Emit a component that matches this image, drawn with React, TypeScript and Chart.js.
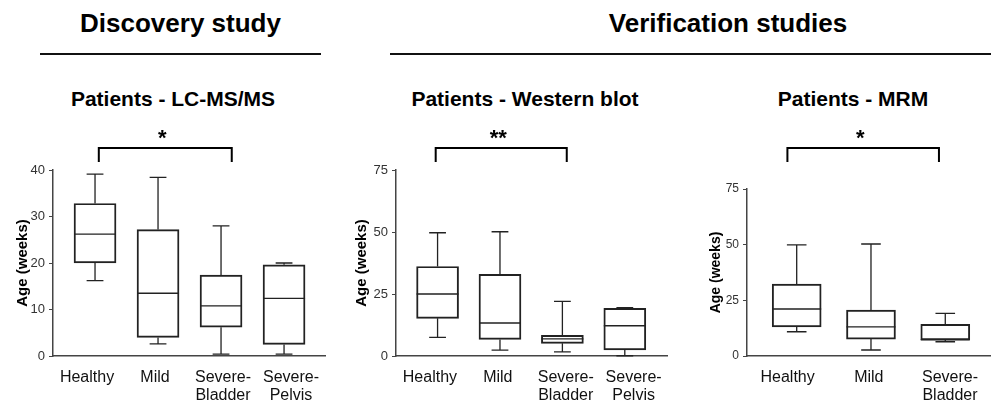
import React, { useEffect, useRef } from "react";
import { Chart, registerables } from "chart.js";

Chart.register(...registerables);
Chart.defaults.font.family = "'Liberation Sans', Arial, Helvetica, sans-serif";

// ---------- data ----------
const fourGroups: (string | string[])[] = ["Healthy", "Mild", ["Severe-", "Bladder"], ["Severe-", "Pelvis"]];
const threeGroups: (string | string[])[] = ["Healthy", "Mild", ["Severe-", "Bladder"]];

// box stats: [min, q1, median, q3, max]
const lcmsMin = [16.2, 2.6, 0.4, 0.4];
const lcmsQ1 = [20.0, 4.0, 6.2, 2.5];
const lcmsMedian = [26.2, 13.5, 10.8, 12.4];
const lcmsQ3 = [32.8, 27.2, 17.4, 19.6];
const lcmsMax = [39.1, 38.4, 28.0, 20.0];

const wbMin = [7.5, 2.4, 1.7, 0.1];
const wbQ1 = [15.2, 6.7, 5.1, 2.5];
const wbMedian = [25.0, 13.3, 6.9, 12.2];
const wbQ3 = [36.1, 32.9, 8.3, 19.2];
const wbMax = [49.7, 50.1, 22.0, 19.5];

const mrmMin = [10.9, 2.7, 6.4];
const mrmQ1 = [13.1, 7.6, 7.2];
const mrmMedian = [21.1, 13.1, 7.3];
const mrmQ3 = [32.3, 20.6, 14.2];
const mrmMax = [49.9, 50.3, 19.1];

const lcmsTicks = [0, 10, 20, 30, 40];
const wbTicks = [0, 25, 50, 75];
const mrmTicks = [0, 25, 50, 75];

const yTitle = "Age (weeks)";

type Panel = {
  title: string;
  labels: (string | string[])[];
  min: number[]; q1: number[]; med: number[]; q3: number[]; max: number[];
  ticks: number[];
  sig: string;
  sigFrom: number; sigTo: number;
  // layout
  left: number; top: number; width: number; height: number;
  padTop: number; padRight: number; yWidth: number; xHeight: number;
  xbMin: number; xbMax: number; boxW: number;
  tickFont: number; yTitleFont: number; yTitlePad: number;
  titleX: number;
};

const panels: Panel[] = [
  {
    title: "Patients - LC-MS/MS", labels: fourGroups,
    min: lcmsMin, q1: lcmsQ1, med: lcmsMedian, q3: lcmsQ3, max: lcmsMax,
    ticks: lcmsTicks, sig: "*", sigFrom: 0.06, sigTo: 2.17,
    left: 0, top: 115, width: 335, height: 289, padTop: 55, padRight: 10, yWidth: 53, xHeight: 48,
    xbMin: -0.667, xbMax: 3.65, boxW: 42, tickFont: 13, yTitleFont: 15, yTitlePad: 14, titleX: 173,
  },
  {
    title: "Patients - Western blot", labels: fourGroups,
    min: wbMin, q1: wbQ1, med: wbMedian, q3: wbQ3, max: wbMax,
    ticks: wbTicks, sig: "**", sigFrom: -0.03, sigTo: 2.07,
    left: 340, top: 115, width: 335, height: 289, padTop: 55, padRight: 3, yWidth: 56, xHeight: 48,
    xbMin: -0.666, xbMax: 3.685, boxW: 42, tickFont: 13, yTitleFont: 15, yTitlePad: 13, titleX: 525,
  },
  {
    title: "Patients - MRM", labels: threeGroups,
    min: mrmMin, q1: mrmQ1, med: mrmMedian, q3: mrmQ3, max: mrmMax,
    ticks: mrmTicks, sig: "*", sigFrom: -0.125, sigTo: 1.915,
    left: 680, top: 115, width: 311, height: 289, padTop: 74, padRight: 0, yWidth: 67, xHeight: 48,
    xbMin: -0.669, xbMax: 2.61, boxW: 49, tickFont: 12, yTitleFont: 14, yTitlePad: 28, titleX: 853,
  },
];

const BRACKET_TOP = 33;
const BRACKET_LEG = 47;
const STAR_BASE = 29.5;

function BoxPanel({ p }: { p: Panel }) {
  const ref = useRef<HTMLCanvasElement | null>(null);
  useEffect(() => {
    if (!ref.current) return;
    const boxPlugin = {
      id: "boxwhisk",
      afterDatasetsDraw(chart: any) {
        const ctx = chart.ctx;
        const xs = chart.scales.xb;
        const ys = chart.scales.y;
        ctx.save();
        ctx.strokeStyle = "#222";
        ctx.lineWidth = 1.3;
        const half = p.boxW / 2;
        const cap = p.boxW * 0.2;
        p.med.forEach((m, i) => {
          const cx = xs.getPixelForValue(i);
          const yMed = ys.getPixelForValue(m);
          const yQ1 = ys.getPixelForValue(p.q1[i]);
          const yQ3 = ys.getPixelForValue(p.q3[i]);
          const yMin = ys.getPixelForValue(p.min[i]);
          const yMax = ys.getPixelForValue(p.max[i]);
          ctx.beginPath();
          ctx.moveTo(cx - half, yMed); ctx.lineTo(cx + half, yMed);
          ctx.moveTo(cx, yQ3); ctx.lineTo(cx, yMax);
          ctx.moveTo(cx - cap, yMax); ctx.lineTo(cx + cap, yMax);
          ctx.moveTo(cx, yQ1); ctx.lineTo(cx, yMin);
          ctx.moveTo(cx - cap, yMin); ctx.lineTo(cx + cap, yMin);
          ctx.stroke();
        });
        ctx.restore();
      },
      afterDraw(chart: any) {
        const ctx = chart.ctx;
        const xs = chart.scales.xb;
        const x1 = xs.getPixelForValue(p.sigFrom);
        const x2 = xs.getPixelForValue(p.sigTo);
        ctx.save();
        ctx.strokeStyle = "#000";
        ctx.lineWidth = 2;
        ctx.beginPath();
        ctx.moveTo(x1, BRACKET_LEG);
        ctx.lineTo(x1, BRACKET_TOP);
        ctx.lineTo(x2, BRACKET_TOP);
        ctx.lineTo(x2, BRACKET_LEG);
        ctx.stroke();
        ctx.fillStyle = "#000";
        ctx.font = "bold 22px 'Liberation Sans', Arial, sans-serif";
        ctx.textAlign = "center";
        ctx.textBaseline = "alphabetic";
        ctx.fillText(p.sig, (x1 + x2) / 2 - 3, STAR_BASE);
        ctx.restore();
      },
    };

    const chart = new Chart(ref.current, {
      type: "bar",
      data: {
        labels: p.labels as any,
        datasets: [
          {
            label: "box",
            xAxisID: "xb",
            yAxisID: "y",
            data: p.q1.map((q, i) => ({ x: i, y: [q, p.q3[i]] })) as any,
            backgroundColor: "rgba(255,255,255,0)",
            borderColor: "#222",
            borderWidth: 1.3,
            borderSkipped: false,
            barThickness: p.boxW,
          } as any,
        ],
      },
      options: {
        animation: false,
        responsive: false,
        maintainAspectRatio: false,
        devicePixelRatio: 1,
        layout: { padding: { top: p.padTop, right: p.padRight, left: 0, bottom: 0 } },
        plugins: { legend: { display: false }, tooltip: { enabled: false }, title: { display: false } },
        scales: {
          x: {
            type: "category",
            axis: "x",
            position: "bottom",
            offset: true,
            grid: { display: false, drawTicks: false },
            border: { display: true, color: "#444", width: 1.5 },
            ticks: {
              color: "#111",
              font: { size: 16, lineHeight: 1.125 },
              padding: 13,
              maxRotation: 0,
              autoSkip: false,
            },
            afterFit: (s: any) => { s.height = p.xHeight; },
          },
          xb: {
            type: "linear",
            axis: "x",
            display: false,
            min: p.xbMin,
            max: p.xbMax,
            offset: false,
          },
          y: {
            type: "linear",
            position: "left",
            min: p.ticks[0],
            max: p.ticks[p.ticks.length - 1],
            afterBuildTicks: (s: any) => { s.ticks = p.ticks.map((v) => ({ value: v })); },
            grid: { display: true, drawOnChartArea: false, drawTicks: true, tickLength: 4, color: "#444", lineWidth: 1 },
            border: { display: true, color: "#444", width: 1.5 },
            ticks: { color: "#333", font: { size: p.tickFont }, padding: 4 },
            title: {
              display: true,
              text: yTitle,
              color: "#000",
              font: { size: p.yTitleFont, weight: "bold" },
              padding: { top: p.yTitlePad, bottom: 0 },
            },
            afterFit: (s: any) => { s.width = p.yWidth; },
          },
        },
      } as any,
      plugins: [boxPlugin],
    });
    return () => chart.destroy();
  }, [p]);

  return (
    <>
      <div
        style={{
          position: "absolute",
          left: p.titleX - 200,
          width: 400,
          top: 87,
          textAlign: "center",
          font: "bold 21px 'Liberation Sans', Arial, sans-serif",
          lineHeight: "24px",
          color: "#000",
          whiteSpace: "nowrap",
        }}
      >
        {p.title}
      </div>
      <canvas
        ref={ref}
        width={p.width}
        height={p.height}
        style={{ position: "absolute", left: p.left, top: p.top, width: p.width, height: p.height }}
      />
    </>
  );
}

export default function App() {
  const header: React.CSSProperties = {
    position: "absolute",
    top: 8,
    textAlign: "center",
    font: "bold 26px 'Liberation Sans', Arial, sans-serif",
    lineHeight: "30px",
    color: "#000",
    whiteSpace: "nowrap",
  };
  return (
    <div style={{ position: "relative", width: 991, height: 404, overflow: "hidden", background: "#fff" }}>
      <style>{"body{margin:0;background:#fff}"}</style>
      <div style={{ ...header, left: 0, width: 361 }}>Discovery study</div>
      <div style={{ ...header, left: 465, width: 526 }}>Verification studies</div>
      <div style={{ position: "absolute", left: 40, top: 53, width: 281, height: 2, background: "#111" }} />
      <div style={{ position: "absolute", left: 390, top: 53, width: 601, height: 2, background: "#111" }} />
      {panels.map((p) => (
        <BoxPanel key={p.title} p={p} />
      ))}
    </div>
  );
}
